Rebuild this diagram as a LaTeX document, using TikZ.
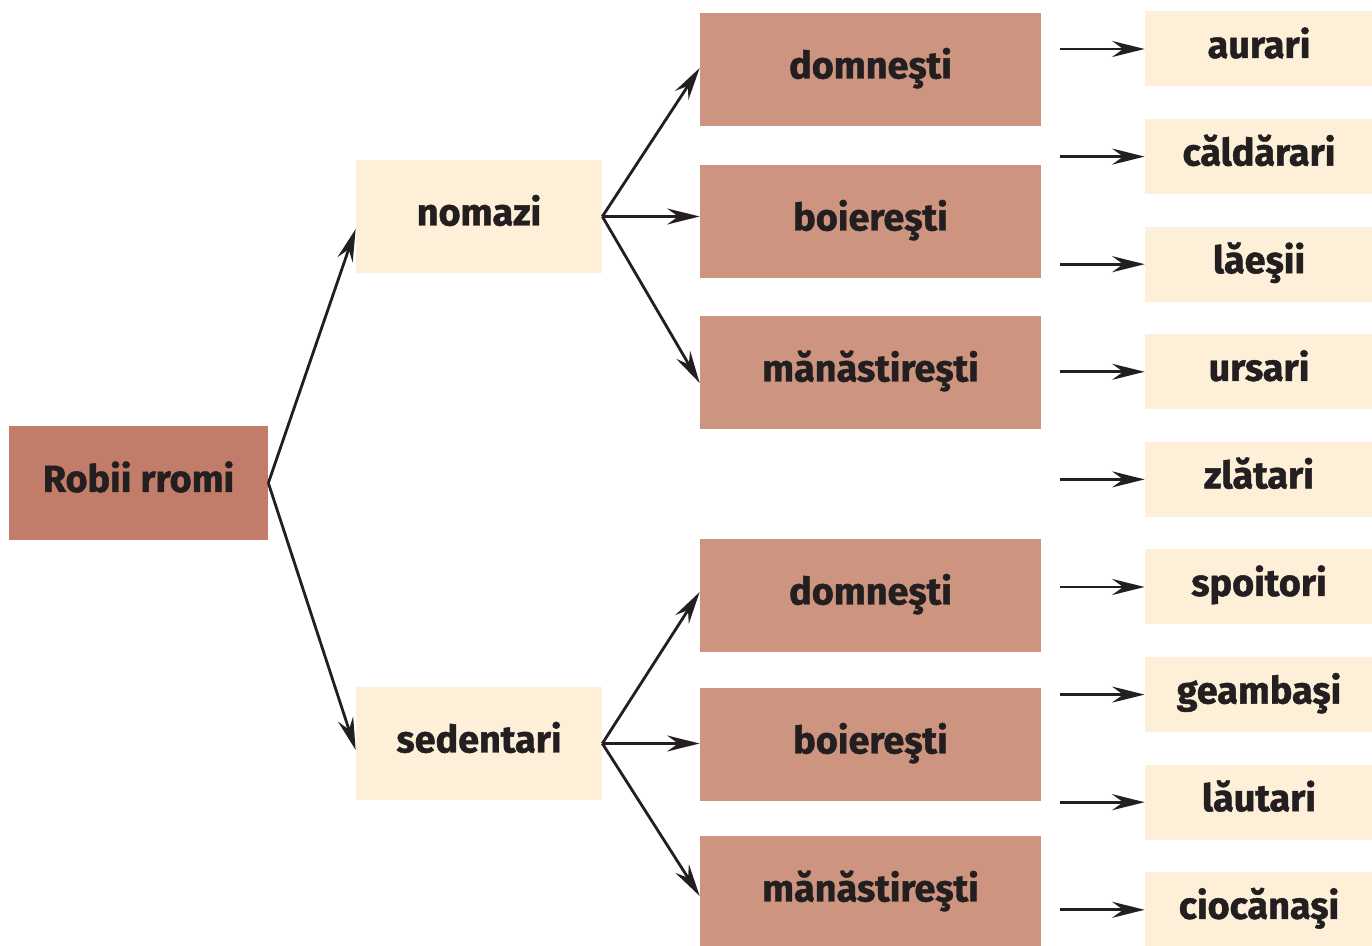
\documentclass[tikz,border=0pt]{standalone}
\usepackage{fontspec}
\setmainfont{Fira Sans}[BoldFeatures={FakeBold=1.2}]
\usetikzlibrary{arrows.meta,calc}
\definecolor{rootred}{HTML}{C17D6A}
\definecolor{ownerbrown}{HTML}{CD9480}
\definecolor{creamfill}{HTML}{FDEFD8}
\definecolor{inkdark}{HTML}{231F20}
\tikzset{
	boxbase/.style={rectangle, inner sep=0pt, text=inkdark, text height=0.6cm, text depth=0.24cm, font=\fontsize{21.5}{25}\selectfont\bfseries},
	rootbox/.style={boxbase, fill=rootred, minimum width=5.18cm, minimum height=2.28cm},
	groupbox/.style={boxbase, fill=creamfill, minimum width=4.92cm, minimum height=2.26cm},
	ownerbox/.style={boxbase, fill=ownerbrown, minimum width=6.82cm, minimum height=2.26cm},
	tradebox/.style={boxbase, fill=creamfill, minimum width=4.56cm, minimum height=1.5cm},
	arr/.style={line width=1.6pt, color=inkdark, -{Stealth[length=6.5mm, width=3.2mm, inset=2.2mm]}}
}

\begin{document}
\begin{tikzpicture}
		%%%%% START %%%%%
		\useasboundingbox (0, 0) rectangle (27.44, -18.92);
		
		\node[rootbox] (robii) at (2.77, -9.66) {Robii rromi};
		
		\node[groupbox] (nomazi) at (9.58, -4.33) {nomazi};
		\node[groupbox] (sedentari) at (9.58, -14.87) {sedentari};
		
		\node[ownerbox] (ndomn) at (17.41, -1.39) {domneşti};
		\node[ownerbox] (nboier) at (17.41, -4.43) {boiereşti};
		\node[ownerbox] (nmanas) at (17.41, -7.45) {mănăstireşti};
		\node[ownerbox] (sdomn) at (17.41, -11.91) {domneşti};
		\node[ownerbox] (sboier) at (17.41, -14.89) {boiereşti};
		\node[ownerbox] (smanas) at (17.41, -17.85) {mănăstireşti};
		
		\draw[arr] (robii.east) -- ($(nomazi.west)+(0, -0.25)$);
		\draw[arr] (robii.east) -- ($(sedentari.west)+(0, -0.13)$);
		
		\draw[arr] (nomazi.east) -- ($(ndomn.west)+(0, 0.03)$);
		\draw[arr] (nomazi.east) -- (nomazi.east -| nboier.west);
		\draw[arr] (nomazi.east) -- ($(nmanas.west)+(0, -0.21)$);
		
		\draw[arr] (sedentari.east) -- ($(sdomn.west)+(0, 0.07)$);
		\draw[arr] (sedentari.east) -- (sedentari.east -| sboier.west);
		\draw[arr] (sedentari.east) -- ($(smanas.west)+(0, -0.07)$);
		
		% meserii
		\foreach \trade [count=\i] in {aurari, căldărari, lăeşii, ursari, zlătari, spoitori, geambaşi, lăutari, ciocănaşi} {
			\node[tradebox] (trade\i) at (25.18, {-0.98-2.152*(\i-1)}) {\trade};
			\coordinate (from\i) at (21.2, {-0.98-2.152*(\i-1)});
			\draw[arr] (from\i) -- (trade\i.west);
		}
		
		%%%%% END %%%%%
	\end{tikzpicture}
\end{document}
